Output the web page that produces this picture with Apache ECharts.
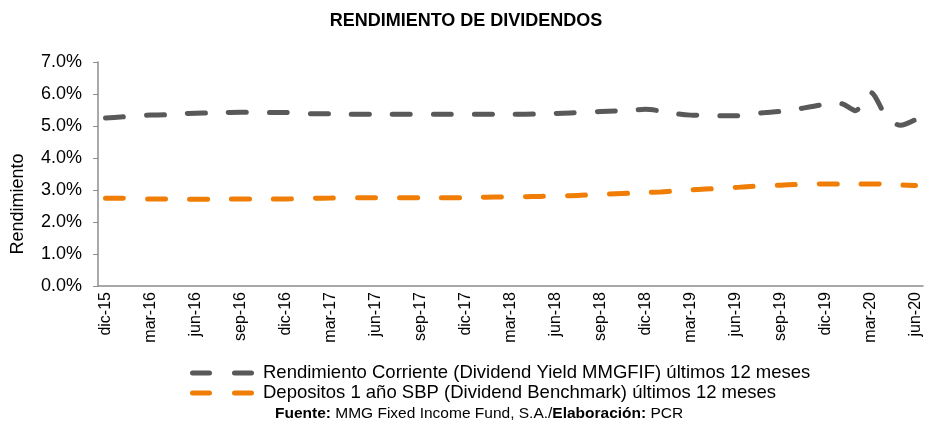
<!DOCTYPE html>
<html>
<head>
<meta charset="utf-8">
<script src="https://cdn.jsdelivr.net/npm/echarts@6/dist/echarts.min.js"></script>
<style>
  html, body { margin: 0; padding: 0; background: #fff; }
  #chart { width: 932px; height: 428px; }
</style>
</head>
<body>
<div id="chart"></div>
<script>
// monthly categories dic-15 .. jun-20
const months = ['ene', 'feb', 'mar', 'abr', 'may', 'jun', 'jul', 'ago', 'sep', 'oct', 'nov', 'dic'];
const categories = ['dic-15'];
for (let y = 16; y <= 20; y++) {
  for (let m = 0; m < 12; m++) {
    if (y === 20 && m > 5) break;
    categories.push(months[m] + '-' + y);
  }
}

// Rendimiento Corriente (Dividend Yield MMGFIF) ultimos 12 meses, %
const yieldFund = [
  5.25, 5.28, 5.31, 5.34, 5.35, 5.38, 5.40, 5.41, 5.42, 5.43, 5.43, 5.42,
  5.42, 5.40, 5.38, 5.38, 5.37, 5.37, 5.37, 5.37, 5.37, 5.37, 5.37, 5.37,
  5.37, 5.37, 5.37, 5.37, 5.37, 5.38, 5.39, 5.41, 5.43, 5.45, 5.47, 5.49,
  5.52, 5.47, 5.39, 5.34, 5.33, 5.32, 5.32, 5.38, 5.42, 5.46, 5.52, 5.60,
  5.68, 5.70, 5.48, 6.05, 5.35, 5.02, 5.20
];

// Depositos 1 ano SBP (Dividend Benchmark) ultimos 12 meses, %
const benchmark = [
  2.74, 2.74, 2.73, 2.72, 2.72, 2.71, 2.71, 2.71, 2.72, 2.72, 2.72, 2.72,
  2.72, 2.73, 2.74, 2.75, 2.76, 2.76, 2.76, 2.76, 2.76, 2.76, 2.76, 2.76,
  2.76, 2.77, 2.78, 2.78, 2.79, 2.80, 2.81, 2.82, 2.84, 2.86, 2.88, 2.90,
  2.92, 2.94, 2.97, 3.00, 3.03, 3.05, 3.08, 3.11, 3.13, 3.15, 3.17, 3.18,
  3.19, 3.19, 3.19, 3.19, 3.18, 3.16, 3.14
];

const seriesNames = [
  'Rendimiento Corriente (Dividend Yield MMGFIF) últimos 12 meses',
  'Depositos 1 año SBP (Dividend Benchmark) últimos 12 meses'
];

const font = 'Arial, "Liberation Sans", sans-serif';
const axisGray = '#8c8c8c';
const dashIcon = 'path://M2.5,0H19.5A2.5,2.5 0 0 1 19.5,5H2.5A2.5,2.5 0 0 1 2.5,0Z' +
  'M44.5,0H61.5A2.5,2.5 0 0 1 61.5,5H44.5A2.5,2.5 0 0 1 44.5,0Z';

const chart = echarts.init(document.getElementById('chart'));
chart.setOption({
  animation: false,
  textStyle: { fontFamily: font },
  title: {
    text: 'RENDIMIENTO DE DIVIDENDOS',
    left: 'center',
    top: 7,
    textStyle: { fontSize: 18, fontWeight: 'bold', color: '#000', fontFamily: font }
  },
  grid: { left: 98, right: 9, top: 62, bottom: 142 },
  legend: {
    orient: 'vertical',
    left: 185,
    top: 358,
    itemGap: 0,
    itemWidth: 64,
    itemHeight: 5,
    icon: dashIcon,
    textStyle: { fontSize: 18.5, lineHeight: 20, color: '#000', fontFamily: font, padding: [0, 0, 0, 4] },
    data: seriesNames
  },
  xAxis: {
    type: 'category',
    data: categories,
    boundaryGap: true,
    axisLine: { lineStyle: { color: axisGray, width: 1.5 } },
    axisTick: { interval: 2, length: 5, lineStyle: { color: axisGray } },
    axisLabel: { interval: 2, rotate: 90, fontSize: 16, color: '#000', margin: 6 }
  },
  yAxis: {
    type: 'value',
    min: 0,
    max: 7,
    interval: 1,
    axisLine: { show: true, lineStyle: { color: axisGray, width: 1.5 } },
    axisTick: { show: true, length: 5, lineStyle: { color: axisGray } },
    splitLine: { show: false },
    axisLabel: {
      fontSize: 18,
      color: '#000',
      margin: 16,
      formatter: v => v.toFixed(1) + '%'
    }
  },
  series: [
    {
      name: seriesNames[0],
      type: 'line',
      data: yieldFund,
      symbol: 'none',
      smooth: 0.3,
      color: '#595959',
      lineStyle: { width: 5, type: [18, 23], cap: 'round', color: '#595959' }
    },
    {
      name: seriesNames[1],
      type: 'line',
      data: benchmark,
      symbol: 'none',
      smooth: 0.3,
      color: '#F07D05',
      lineStyle: { width: 5, type: [18, 24], cap: 'round', color: '#F07D05' }
    }
  ],
  graphic: [
    {
      type: 'text',
      x: 18,
      y: 204,
      rotation: Math.PI / 2,
      style: {
        text: 'Rendimiento',
        font: '18px ' + font,
        fill: '#000',
        align: 'center',
        verticalAlign: 'middle'
      }
    },
    {
      type: 'text',
      x: 275,
      y: 406,
      style: {
        text: '{b|Fuente:} MMG Fixed Income Fund, S.A./{b|Elaboración:} PCR',
        font: '15.5px ' + font,
        fill: '#000',
        rich: {
          b: { fontWeight: 'bold', fontSize: 15.5, fontFamily: font }
        }
      }
    }
  ]
});
</script>
</body>
</html>
